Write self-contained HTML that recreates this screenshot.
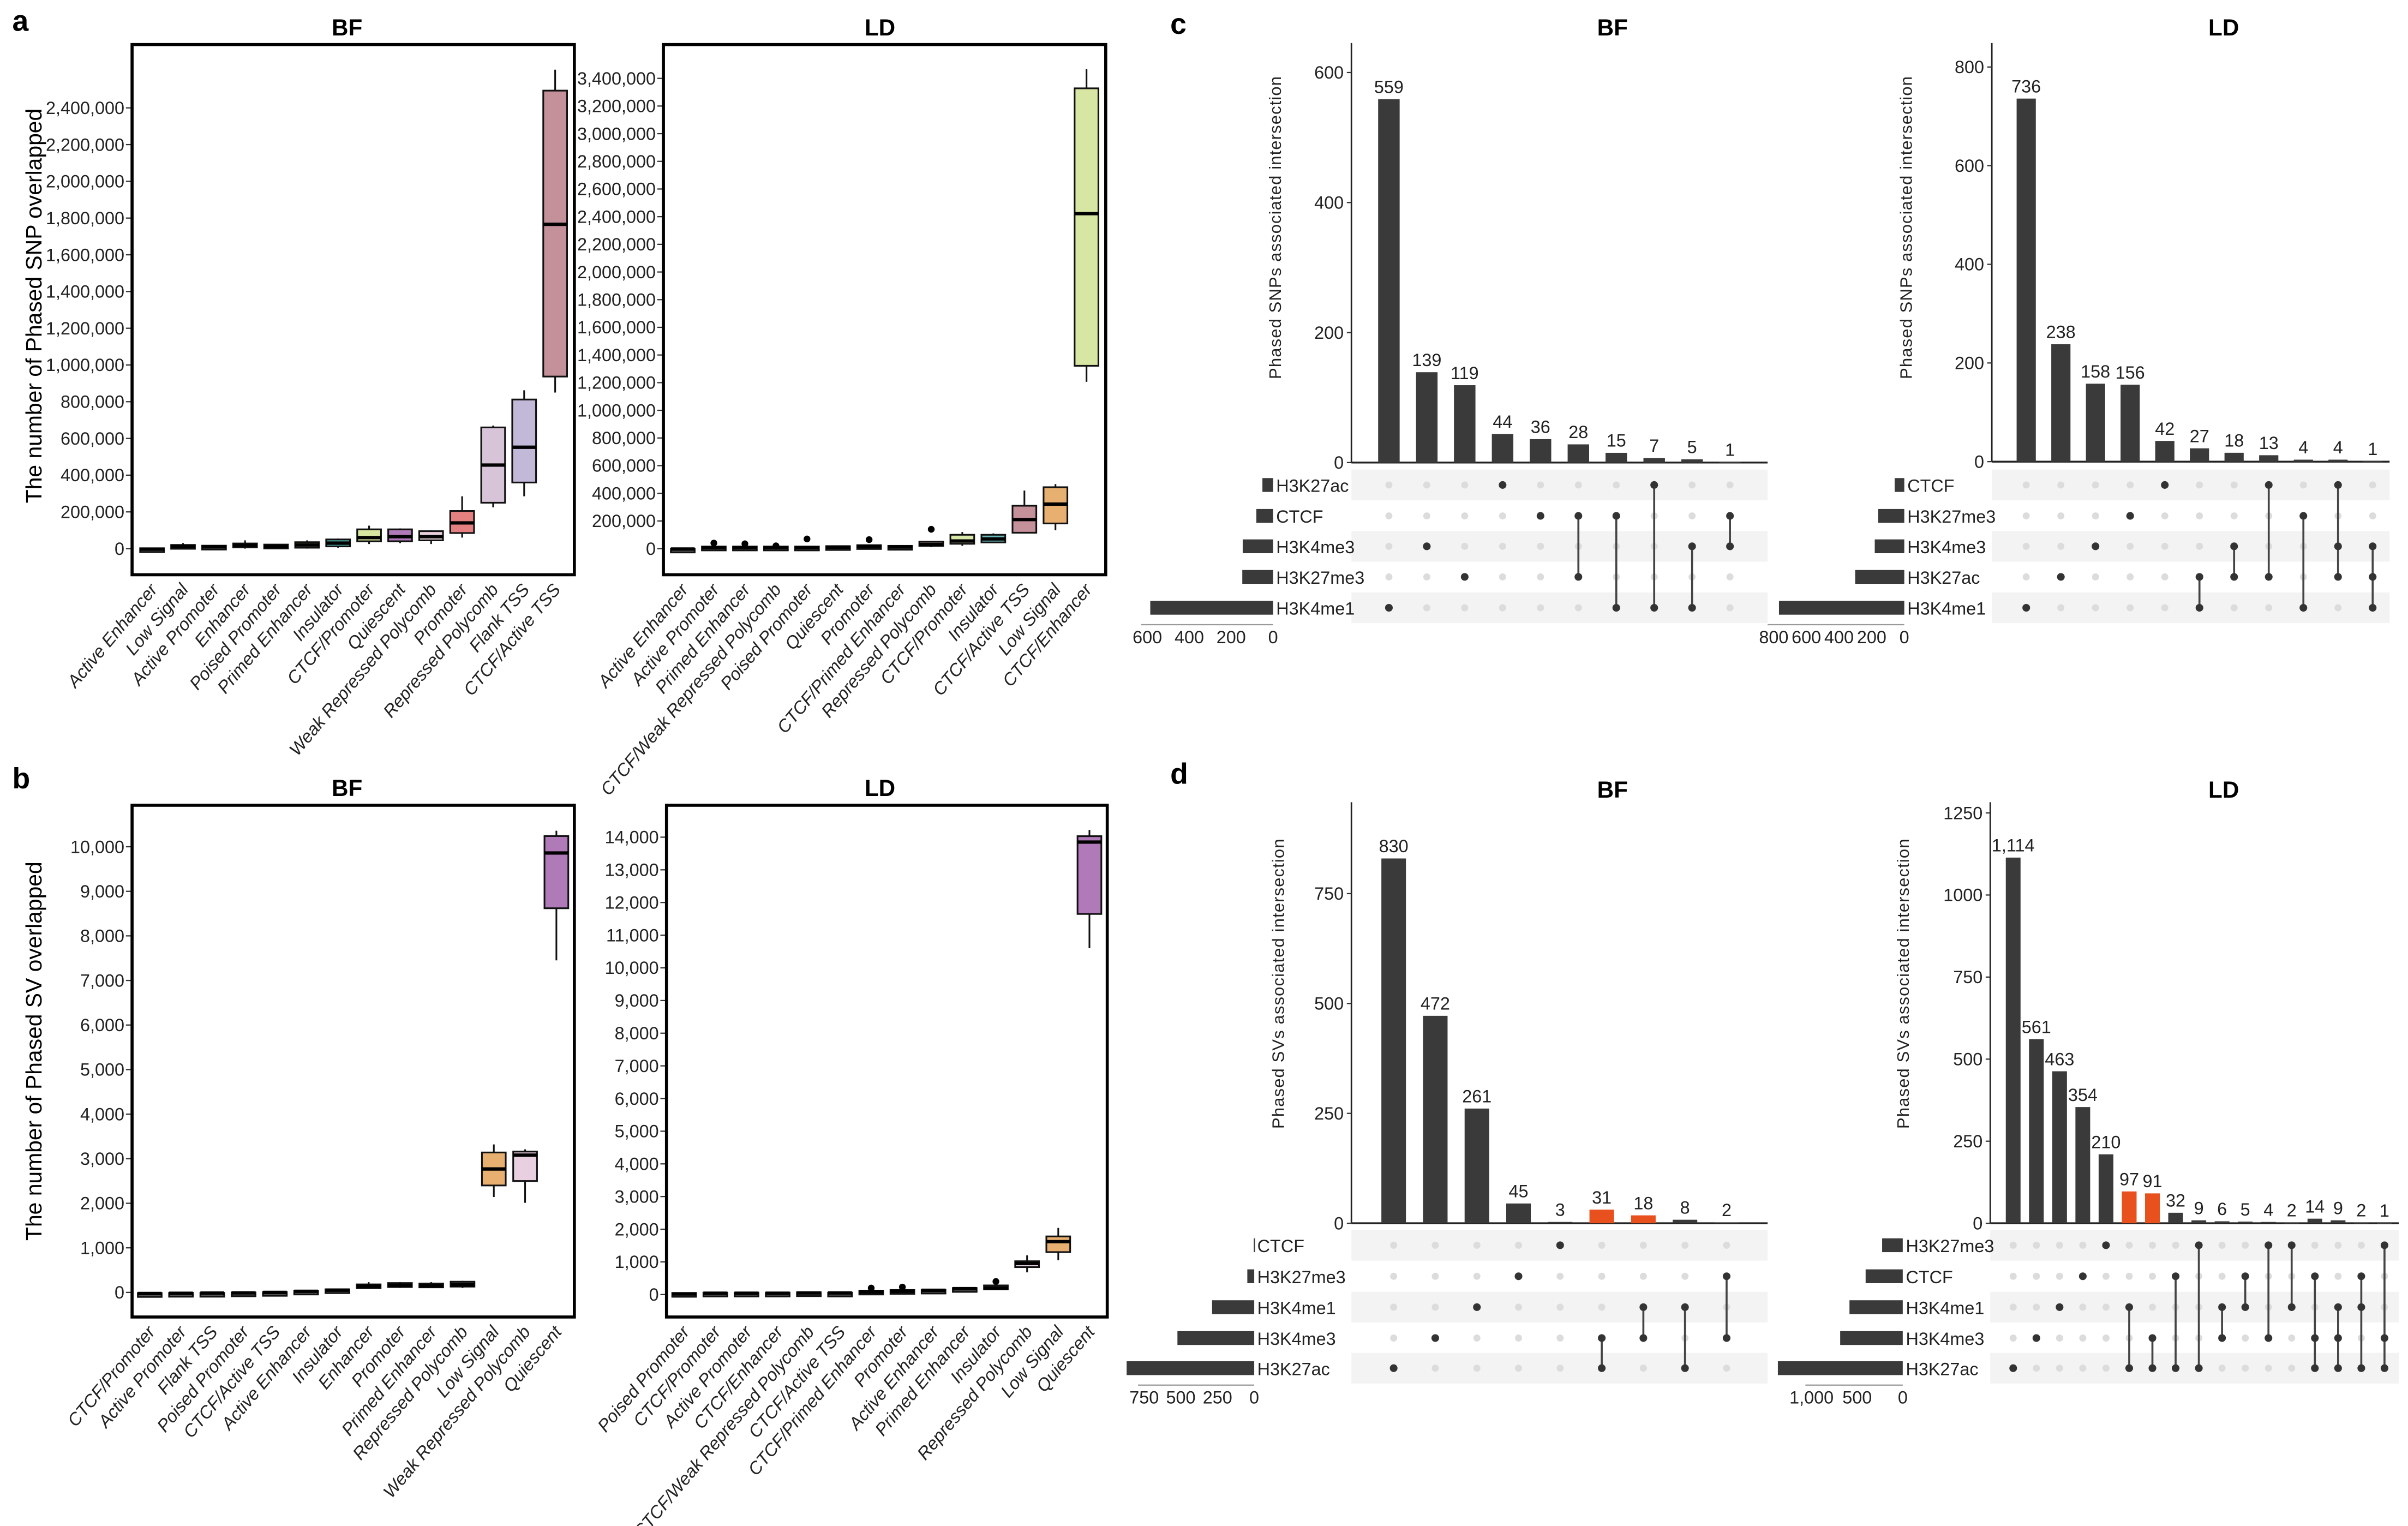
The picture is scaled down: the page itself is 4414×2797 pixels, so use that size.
<!DOCTYPE html>
<html><head><meta charset="utf-8"><style>
html,body{margin:0;padding:0;background:#fff;}
svg{display:block;font-family:"Liberation Sans",Arial,sans-serif;}
</style></head><body>
<svg id="fig" width="4414" height="2797" viewBox="0 0 1568 993" preserveAspectRatio="none" xmlns="http://www.w3.org/2000/svg"></svg>
<script>
// ---------- DATA: panel a ----------
const aBFcats=["Active Enhancer","Low Signal","Active Promoter","Enhancer","Poised Promoter","Primed Enhancer","Insulator","CTCF/Promoter","Quiescent","Weak Repressed Polycomb","Promoter","Repressed Polycomb","Flank TSS","CTCF/Active TSS"];
const aBFstats=[[-10,-8,-3,2,5],[0,5,12,20,30],[0,5,10,16,20],[0,10,18,28,45],[0,5,12,22,25],[0,5,20,35,45],[5,12,30,50,55],[25,40,60,105,125],[30,40,65,105,110],[25,45,65,95,100],[60,85,140,205,285],[225,250,455,660,670],[285,360,552,812,862],[850,937,1766,2494,2608]];
const aBFcolors=["#555","#555","#555","#555","#555","#8fa060","#4aa6a0","#d6e6a0","#b07ab8","#e8d0dc","#e58080","#d8c4d8","#c2b8d8","#c4909a"];
const aBFticks=[0,200,400,600,800,1000,1200,1400,1600,1800,2000,2200,2400];
const aLDcats=["Active Enhancer","Active Promoter","Primed Enhancer","CTCF/Weak Repressed Polycomb","Poised Promoter","Quiescent","Promoter","CTCF/Primed Enhancer","Repressed Polycomb","CTCF/Promoter","Insulator","CTCF/Active TSS","Low Signal","CTCF/Enhancer"];
const aLDstats=[[-10,-8,-3,0,5],[0,3,8,15,20],[0,3,8,15,20],[0,3,8,15,20],[0,2,8,15,20],[0,5,10,18,20],[0,8,15,25,30],[0,5,12,20,25],[10,20,30,50,55],[20,35,55,100,120],[40,45,70,100,110],[110,115,210,310,420],[133,182,322,444,466],[1206,1322,2422,3328,3467]];
const aLDout=[null,40,35,20,70,null,65,null,140,null,null,null,null,null];
const aLDcolors=["#555","#555","#555","#555","#555","#555","#555","#555","#b09090","#d8e8a8","#6ab8b8","#c4909a","#e8b070","#d8e6a4"];
const aLDticks=[0,200,400,600,800,1000,1200,1400,1600,1800,2000,2200,2400,2600,2800,3000,3200,3400];
// ---------- DATA: panel b ----------
const bBFcats=["CTCF/Promoter","Active Promoter","Flank TSS","Poised Promoter","CTCF/Active TSS","Active Enhancer","Insulator","Enhancer","Promoter","Primed Enhancer","Repressed Polycomb","Low Signal","Weak Repressed Polycomb","Quiescent"];
const bBFstats=[[-40,-35,-25,-15,-10],[-30,-25,-20,-10,-5],[-30,-25,-15,-10,-5],[-20,-15,-10,0,5],[-10,-5,0,10,20],[10,15,25,40,45],[30,40,50,70,80],[80,100,140,180,230],[100,120,160,210,230],[100,120,150,200,230],[100,130,170,240,260],[2140,2400,2770,3140,3320],[2010,2500,3080,3160,3210],[7450,8620,9860,10240,10360]];
const bBFcolors=["#555","#555","#555","#555","#555","#555","#555","#555","#555","#555","#555","#e8b070","#e8d0e0","#b07ab8"];
const bBFticks=[0,1000,2000,3000,4000,5000,6000,7000,8000,9000,10000];
const bLDcats=["Poised Promoter","CTCF/Promoter","Active Promoter","CTCF/Enhancer","CTCF/Weak Repressed Polycomb","CTCF/Active TSS","CTCF/Primed Enhancer","Promoter","Active Enhancer","Primed Enhancer","Insulator","Repressed Polycomb","Low Signal","Quiescent"];
const bLDstats=[[-10,0,20,50,70],[0,20,40,60,70],[10,20,40,60,70],[-20,20,40,60,70],[0,30,50,70,90],[20,30,50,60,70],[30,50,80,120,180],[40,60,100,140,200],[80,100,130,150,160],[120,150,180,200,210],[150,170,200,280,350],[680,840,950,1020,1200],[1050,1300,1620,1780,2040],[10600,11650,13850,14030,14220]];
const bLDout=[null,null,null,null,null,null,200,230,null,null,400,null,null,null];
const bLDcolors=["#555","#555","#555","#555","#555","#555","#555","#555","#555","#555","#555","#e0c8e0","#e8b070","#b07ab8"];
const bLDticks=[0,1000,2000,3000,4000,5000,6000,7000,8000,9000,10000,11000,12000,13000,14000];
// ---------- DATA: panel c ----------
const cBFsets=["H3K27ac","CTCF","H3K4me3","H3K27me3","H3K4me1"];
const cBFvalues=[559,139,119,44,36,28,15,7,5,1];
const cBFcombos=[[4],[2],[3],[0],[1],[1,3],[1,4],[0,4],[2,4],[1,2]];
const cBFticks=[0,200,400,600];
const cBFsetTicks=[0,200,400,600];
const cLDsets=["CTCF","H3K27me3","H3K4me3","H3K27ac","H3K4me1"];
const cLDvalues=[736,238,158,156,42,27,18,13,4,4,1];
const cLDcombos=[[4],[3],[2],[1],[0],[3,4],[2,3],[0,3],[1,4],[0,2,3],[2,3,4]];
const cLDticks=[0,200,400,600,800];
const cLDsetTicks=[0,200,400,600,800];
// ---------- DATA: panel d ----------
const dBFsets=["CTCF","H3K27me3","H3K4me1","H3K4me3","H3K27ac"];
const dBFvalues=[830,472,261,45,3,31,18,8,2];
const dBFcombos=[[4],[3],[2],[1],[0],[3,4],[2,3],[2,4],[1,3]];
const dBFhighlight=[5,6];
const dBFticks=[0,250,500,750];
const dBFsetTicks=[0,250,500,750];
const dLDsets=["H3K27me3","CTCF","H3K4me1","H3K4me3","H3K27ac"];
const dLDvalues=[1114,561,463,354,210,97,91,32,9,6,5,4,2,14,9,2,1];
const dLDcombos=[[4],[3],[2],[1],[0],[2,4],[3,4],[1,4],[0,4],[2,3],[1,2],[0,3],[0,2],[1,3,4],[2,3,4],[1,2,4],[0,3,4]];
const dLDhighlight=[5,6];
const dLDticks=[0,250,500,750,1000,1250];
const dLDsetTicks=[0,500,1000];

const NS="http://www.w3.org/2000/svg";
const svg=document.getElementById('fig');
function mk(tag,attrs,name,parent){
  const el=document.createElementNS(NS,tag);
  for(const k in attrs) el.setAttribute(k,attrs[k]);
  
  
  (parent||svg).appendChild(el);
  return el;
}
function txt(x,y,s,attrs,name,parent){
  const t=mk('text',Object.assign({x:x,y:y},attrs),name,parent);
  t.textContent=s;return t;
}
const fmt=v=>v.toLocaleString('en-US');

// panel labels & titles
[["a",8,20],["b",8,513],["c",762,22],["d",762,510]].forEach(p=>{
  txt(p[1],p[2],p[0],{"font-size":19,"font-weight":"bold"},'panel-label-'+p[0]);
});
[["BF",226,23],["LD",573,23],["BF",226,518],["LD",573,518],["BF",1050,23],["LD",1448,23],["BF",1050,519],["LD",1448,519]].forEach((p,i)=>{
  txt(p[1],p[2],p[0],{"font-size":15,"font-weight":"bold","text-anchor":"middle"},'facet-title-'+p[0].toLowerCase());
});
txt(0,0,"The number of  Phased SNP overlapped",{"font-size":14.5,"text-anchor":"middle",transform:"translate(27,199) rotate(-90)"},'y-axis-title-snp');
txt(0,0,"The number of  Phased SV overlapped",{"font-size":14.5,"text-anchor":"middle",transform:"translate(27,684) rotate(-90)"},'y-axis-title-sv');

function boxPanel(c){
  const g=mk('g',{},c.name);
  const y=v=>c.zeroY - v*c.ppu;
  // ticks
  c.ticks.forEach(t=>{
    mk('line',{x1:c.x0-4,x2:c.x0,y1:y(t),y2:y(t),stroke:"#333","stroke-width":0.8},'y-tick',g);
    txt(c.x0-5,y(t)+4,fmt(t*c.mult),{"font-size":11.5,"text-anchor":"end",fill:"#222"},'y-tick-label',g);
  });
  const n=c.cats.length;
  const step=(c.lastX-c.firstX)/(n-1);
  c.cats.forEach((cat,i)=>{
    const cx=c.firstX+i*step, s=c.stats[i], bw=15.5;
    mk('line',{x1:cx,x2:cx,y1:y(s[0]),y2:y(s[4]),stroke:"#111","stroke-width":1.1},'whisker',g);
    const top=y(s[3]), bot=y(s[1]);
    mk('rect',{x:cx-bw/2,y:top,width:bw,height:Math.max(bot-top,2.5),fill:c.colors[i],stroke:"#111","stroke-width":1.1},'box-'+i,g);
    mk('line',{x1:cx-bw/2,x2:cx+bw/2,y1:y(s[2]),y2:y(s[2]),stroke:"#000","stroke-width":2.2},'median',g);
    if(c.out && c.out[i]!=null) mk('circle',{cx:cx,cy:y(c.out[i]),r:2.2,fill:"#000"},'outlier',g);
    txt(0,0,cat,{"font-size":11.5,"font-style":"italic","text-anchor":"end",fill:"#222",transform:`translate(${cx+4},${c.y1+10}) rotate(-50)`},'x-tick-label',g);
  });
  mk('rect',{x:c.x0,y:c.y0,width:c.x1-c.x0,height:c.y1-c.y0,fill:"none",stroke:"#000","stroke-width":2},'panel-frame',g);
}
boxPanel({name:'panel-a-bf',x0:86,x1:374,y0:29,y1:374,zeroY:357,ppu:23.9/200,ticks:aBFticks,mult:1000,cats:aBFcats,stats:aBFstats,colors:aBFcolors,firstX:99,lastX:361.5});
boxPanel({name:'panel-a-ld',x0:432,x1:720,y0:29,y1:374,zeroY:357,ppu:18.0/200,ticks:aLDticks,mult:1000,cats:aLDcats,stats:aLDstats,colors:aLDcolors,out:aLDout,firstX:444.6,lastX:707.5});
boxPanel({name:'panel-b-bf',x0:86,x1:374,y0:524,y1:857,zeroY:841,ppu:0.029,ticks:bBFticks,mult:1,cats:bBFcats,stats:bBFstats,colors:bBFcolors,firstX:97.5,lastX:362.3});
boxPanel({name:'panel-b-ld',x0:434,x1:721,y0:524,y1:857,zeroY:842.4,ppu:0.02126,ticks:bLDticks,mult:1,cats:bLDcats,stats:bLDstats,colors:bLDcolors,out:bLDout,firstX:445.5,lastX:709.4});

function upset(c){
  const g=mk('g',{},c.name);
  const y=v=>c.zeroY - v*c.ppu;
  // row shading
  c.rowY.forEach((ry,i)=>{
    if(i%2===c.shadeParity) mk('rect',{x:c.axisX,y:ry-10,width:c.axisRight-c.axisX,height:20,fill:"#f3f3f3"},'matrix-row-band',g);
  });
  mk('line',{x1:c.axisX,x2:c.axisX,y1:c.axisTop,y2:c.zeroY,stroke:"#222","stroke-width":1},'y-axis-line',g);
  mk('line',{x1:c.axisX,x2:c.axisRight,y1:c.zeroY,y2:c.zeroY,stroke:"#222","stroke-width":1.2},'x-axis-line',g);
  c.ticks.forEach(t=>{
    mk('line',{x1:c.axisX-3,x2:c.axisX,y1:y(t),y2:y(t),stroke:"#333","stroke-width":0.8},'y-tick',g);
    txt(c.axisX-5,y(t)+4,String(t),{"font-size":11.5,"text-anchor":"end",fill:"#222"},'y-tick-label',g);
  });
  txt(0,0,c.ytitle,{"font-size":11,"text-anchor":"middle",fill:"#222","letter-spacing":0.4,transform:`translate(${c.ytitleX},${c.ytitleY}) rotate(-90)`},'y-axis-title',g);
  const n=c.values.length, step=(c.lastX-c.firstX)/(n-1);
  c.values.forEach((v,i)=>{
    const cx=c.firstX+i*step;
    const hl=c.hl && c.hl.indexOf(i)>=0;
    mk('rect',{x:cx-c.bw/2,y:y(v),width:c.bw,height:Math.max(v*c.ppu,0.6),fill:hl?"#e8501e":"#3a3a3a"},'bar-'+i,g);
    txt(cx,y(v)-4,fmt(v),{"font-size":11.5,"text-anchor":"middle",fill:"#222"},'bar-value-label',g);
    // matrix dots
    c.rowY.forEach((ry,r)=>{
      mk('circle',{cx:cx,cy:ry,r:2.3,fill:"#dcdcdc"},'matrix-dot-empty',g);
    });
    const rows=c.combos[i].map(r=>c.rowY[r]);
    if(rows.length>1) mk('line',{x1:cx,x2:cx,y1:Math.min(...rows),y2:Math.max(...rows),stroke:"#444","stroke-width":1.3},'matrix-connector',g);
    rows.forEach(ry=>mk('circle',{cx:cx,cy:ry,r:2.5,fill:"#333"},'matrix-dot-filled',g));
  });
  // set sizes
  const sizes=c.sets.map((s,si)=>c.values.reduce((a,v,i)=>a+(c.combos[i].indexOf(si)>=0?v:0),0));
  c.sets.forEach((s,si)=>{
    const w=sizes[si]*c.sppu;
    mk('rect',{x:c.setZero-w,y:c.rowY[si]-4.5,width:Math.max(w,0.8),height:9,fill:"#3a3a3a"},'set-size-bar',g);
    txt(c.setZero+2,c.rowY[si]+4.5,s,{"font-size":11.5,fill:"#222"},'set-label',g);
  });
  const ay=c.rowY[4]+11;
  mk('line',{x1:c.setZero-Math.max(...c.setTicks)*c.sppu-4,x2:c.setZero,y1:ay,y2:ay,stroke:"#999","stroke-width":0.8},'set-axis-line',g);
  c.setTicks.forEach(t=>{
    txt(c.setZero-t*c.sppu,ay+12,fmt(t),{"font-size":11.5,"text-anchor":"middle",fill:"#222"},'set-tick-label',g);
  });
}
upset({name:'panel-c-bf',axisX:880,axisRight:1151,axisTop:28,zeroY:301,ppu:42.3/100,ticks:cBFticks,values:cBFvalues,combos:cBFcombos,sets:cBFsets,firstX:904.4,lastX:1126.5,bw:14,rowY:[315.6,335.7,355.5,375.4,395.5],shadeParity:0,setZero:829,sppu:27.3/200,setTicks:cBFsetTicks,ytitle:"Phased SNPs associated intersection",ytitleX:834,ytitleY:148});
upset({name:'panel-c-ld',axisX:1297,axisRight:1556,axisTop:28,zeroY:300.4,ppu:32.1/100,ticks:cLDticks,values:cLDvalues,combos:cLDcombos,sets:cLDsets,firstX:1319.4,lastX:1545,bw:12.5,rowY:[315.6,335.7,355.5,375.4,395.5],shadeParity:0,setZero:1240,sppu:85/800,setTicks:cLDsetTicks,ytitle:"Phased SNPs associated intersection",ytitleX:1245,ytitleY:148});
upset({name:'panel-d-bf',axisX:880,axisRight:1151,axisTop:522,zeroY:796,ppu:71.5/250,ticks:dBFticks,values:dBFvalues,combos:dBFcombos,sets:dBFsets,hl:dBFhighlight,firstX:907.5,lastX:1124.3,bw:16,rowY:[810.3,830.5,850.6,870.7,890.3],shadeParity:0,setZero:816.7,sppu:23.9/250,setTicks:dBFsetTicks,ytitle:"Phased SVs associated intersection",ytitleX:836,ytitleY:640});
upset({name:'panel-d-ld',axisX:1296,axisRight:1562,axisTop:522,zeroY:796,ppu:53.4/250,ticks:dLDticks,values:dLDvalues,combos:dLDcombos,sets:dLDsets,hl:dLDhighlight,firstX:1310.9,lastX:1552.7,bw:9.6,rowY:[810.3,830.5,850.6,870.7,890.3],shadeParity:0,setZero:1239,sppu:29.7/500,setTicks:dLDsetTicks,ytitle:"Phased SVs associated intersection",ytitleX:1243,ytitleY:640});
</script>
</body></html>
